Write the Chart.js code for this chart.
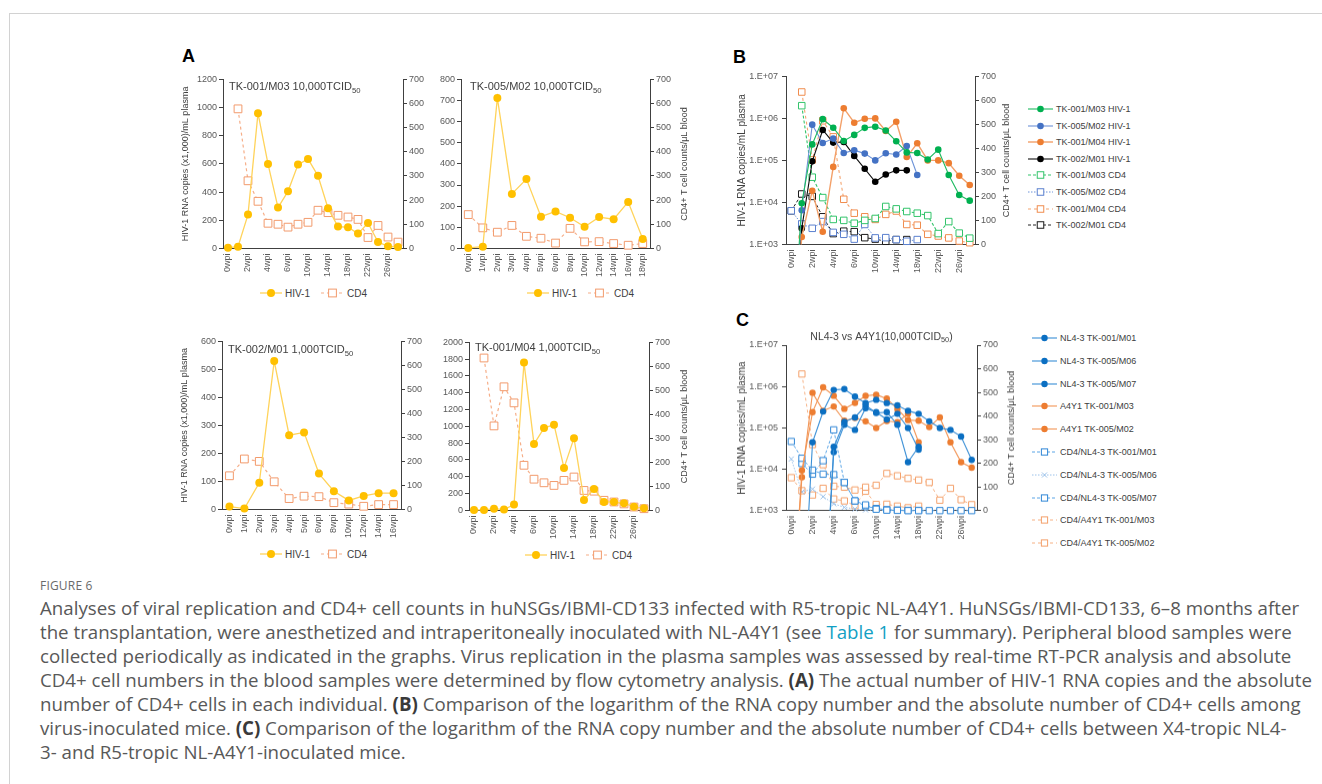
<!DOCTYPE html>
<html>
<head>
<meta charset="utf-8">
<script src="https://cdn.jsdelivr.net/npm/chart.js@4.4.0/dist/chart.umd.min.js"></script>
<style>
  html, body { margin: 0; padding: 0; background: #fff; }
  #page { position: relative; width: 1322px; height: 784px; overflow: hidden; font-family: 'Liberation Sans', Arial, sans-serif; }
  .frame { position: absolute; left: 9px; top: 13px; width: 1400px; height: 900px; border-top: 1px solid #d2d2d2; border-left: 1px solid #d2d2d2; }
  .wrap { position: absolute; }
  .letter { position: absolute; font-weight: bold; font-size: 18px; line-height: 20px; color: #000; }
  .lg { position: absolute; display: flex; align-items: center; white-space: nowrap; color: #404040; }
  .lg svg { flex: none; margin-right: 3px; }
  #fig { position: absolute; left: 40px; top: 578px; font-family: 'Open Sans', sans-serif; font-size: 12px; line-height: 16px; color: #6a6a6a; letter-spacing: 0.2px; }
  #cap { position: absolute; left: 40px; top: 596px; font-family: 'Open Sans', sans-serif; font-size: 16px; line-height: 24px; color: #585858; }
  #cap div { white-space: nowrap; }
  #cap b { color: #3a3a3a; }
  #cap .lnk { color: #129fc4; }
</style>
</head>
<body>
<div id="page">
  <div class="frame"></div>
  <div class="letter" style="left:182px;top:46px;">A</div>
  <div class="letter" style="left:733px;top:47px;">B</div>
  <div class="letter" style="left:736px;top:310px;">C</div>
  <div id="fig">FIGURE 6</div>
  <div id="cap">
    <div>Analyses of viral replication and CD4+ cell counts in huNSGs/IBMI-CD133 infected with R5-tropic NL-A4Y1. HuNSGs/IBMI-CD133, 6–8 months after</div>
    <div>the transplantation, were anesthetized and intraperitoneally inoculated with NL-A4Y1 (see <span class="lnk">Table 1</span> for summary). Peripheral blood samples were</div>
    <div>collected periodically as indicated in the graphs. Virus replication in the plasma samples was assessed by real-time RT-PCR analysis and absolute</div>
    <div>CD4+ cell numbers in the blood samples were determined by flow cytometry analysis. <b>(A)</b> The actual number of HIV-1 RNA copies and the absolute</div>
    <div>number of CD4+ cells in each individual. <b>(B)</b> Comparison of the logarithm of the RNA copy number and the absolute number of CD4+ cells among</div>
    <div>virus-inoculated mice. <b>(C)</b> Comparison of the logarithm of the RNA copy number and the absolute number of CD4+ cells between X4-tropic NL4-</div>
    <div>3- and R5-tropic NL-A4Y1-inoculated mice.</div>
  </div>
</div>
<script>
const FONT = "'Liberation Sans', Arial, sans-serif";
const AX = '#404040';
const TICK = '#595959';

// sampling weeks post infection
const wk = ['0wpi', '1wpi', '2wpi', '3wpi', '4wpi', '5wpi', '6wpi', '8wpi', '10wpi', '12wpi',
            '14wpi', '16wpi', '18wpi', '20wpi', '22wpi', '24wpi', '26wpi', '28wpi'];
const wk13 = wk.slice(0, 13);
const wk12 = wk.slice(0, 12);

// panel A: HIV-1 RNA (x1,000 copies/mL) and CD4+ T cells/uL
const hivM03 = [5, 12, 240, 960, 600, 290, 405, 595, 635, 515, 285, 155, 150, 105, 180, 45, 15, 10];
const cd4M03 = [null, 578, 280, 195, 104, 100, 88, 100, 108, 158, 148, 137, 130, 120, 45, 95, 47, 26];
const hivM02 = [2, 8, 712, 258, 328, 150, 175, 145, 102, 148, 138, 220, 45];
const cd4M02 = [140, 85, 67, 95, 50, 42, 22, 83, 27, 28, 20, 13, 20];
const hivM01 = [10, 3, 95, 530, 265, 275, 128, 65, 32, 48, 58, 58];
const cd4M01 = [140, 210, 200, 115, 45, 55, 53, 28, 22, 13, 20, 20];
const hivM04 = [5, 5, 20, 10, 70, 1760, 790, 980, 1020, 505, 860, 125, 255, 100, 100, 86, 43, 26];
const cd4M04 = [null, 635, 352, 515, 448, 188, 130, 115, 104, 125, 139, 83, 80, 42, 35, 27, 14, 7];

// panels B and C: HIV-1 RNA copies/mL (log axis)
const logM03 = [1, 9.5e3, 2.4e5, 9.6e5, 6.0e5, 2.9e5, 4.05e5, 5.95e5, 6.35e5, 5.15e5, 2.85e5, 1.55e5, 1.5e5, 1.05e5, 1.8e5, 4.5e4, 1.5e4, 1.1e4];
const logM02 = [1, 6.5e3, 7.1e5, 2.6e5, 3.3e5, 1.5e5, 1.75e5, 1.45e5, 1.0e5, 1.48e5, 1.38e5, 2.2e5, 4.5e4];
const logM04 = [1, 1.5e3, 1.9e4, 2.0e3, 7.0e4, 1.75e6, 7.9e5, 9.8e5, 1.0e6, 5.0e5, 8.3e5, 1.2e5, 2.55e5, 1.0e5, 1.0e5, 8.6e4, 4.3e4, 2.6e4];
const logM01 = [1, 2.4e3, 9.5e4, 5.3e5, 2.65e5, 2.75e5, 1.28e5, 6.3e4, 3.1e4, 4.6e4, 5.8e4, 5.8e4];

// panel C: NL4-3 inoculated mice
const nlM01 = [1, 1, 4.5e4, 2.5e5, 8.3e5, 8.7e5, 5.7e5, 4.0e5, 4.8e5, 4.0e5, 3.5e5, 2.6e5, 2.2e5, 1.45e5, 1.0e5, 9.0e4, 6.2e4, 1.7e4];
const nlM06 = [1, 1, 1, 1, 3.5e4, 1.4e5, 1.8e5, 3.5e5, 2.3e5, 2.4e5, 1.2e5, 1.5e4, 3.5e4];
const nlM07 = [1, 1, 1, 1, 2.6e4, 1.2e5, 9.0e4, 3.0e5, 2.4e5, 1.6e5, 2.2e5, 1.0e5, 3.0e4];
const nlCd4M01 = [293, 222, 172, 155, 153, 120, 42, 25, 7, 3, 2, 1, 1, 1, 1, 1, 1, 1];
const nlCd4M06 = [219, 80, 92, 60, 30, 15, 8, 4, 2, 2, 1, 1, 1];
const nlCd4M07 = [null, 200, 155, 212, 342, 120, 42, 20, 10, 5, 3, 2, 2];

// series styles: c marker colour, l line colour, w line width, d dash, m marker, r radius
const S = {
  aHiv:   { c: '#ffc000', l: '#ffd35a', w: 1.3, m: 'circle', r: 4 },
  aCd4:   { c: '#f29a6c', l: '#f6ae88', w: 1.2, d: [3, 3], m: 'rect', r: 5.5 },
  bG:     { c: '#00b050', l: '#1fbb62', w: 1.1, m: 'circle', r: 3.3 },
  bB:     { c: '#4472c4', l: '#6d93d8', w: 1.1, m: 'circle', r: 3.3 },
  bO:     { c: '#ed7d31', l: '#f3a069', w: 1.4, m: 'circle', r: 3.3 },
  bK:     { c: '#000000', l: '#111111', w: 1.1, m: 'circle', r: 3.3 },
  bGc:    { c: '#33c46b', l: '#33c46b', w: 1.1, d: [3, 2], m: 'rect', r: 4.6 },
  bBc:    { c: '#5b80cf', l: '#6d93d8', w: 1.0, d: [1.5, 1.5], m: 'rect', r: 4.6 },
  bOc:    { c: '#f08c4e', l: '#f4a470', w: 1.1, d: [3, 3], m: 'rect', r: 4.6 },
  bKc:    { c: '#1a1a1a', l: '#222222', w: 1.0, d: [3, 2], m: 'rect', r: 4.6 },
  cNl:    { c: '#0b6fc2', l: '#3a8fd6', w: 1.1, m: 'circle', r: 3.2 },
  cA4:    { c: '#ed7d31', l: '#f29556', w: 1.1, m: 'circle', r: 3.2 },
  cNlc:   { c: '#2f86d6', l: '#5aa5e6', w: 1.0, d: [3, 2], m: 'rect', r: 4.4 },
  cNlx:   { c: '#9cc2ea', l: '#9cc2ea', w: 1.0, d: [1.5, 1.5], m: 'cross', r: 3.6 },
  cA4c:   { c: '#f4a06a', l: '#f6b184', w: 1.0, d: [3, 3], m: 'rect', r: 4.4 }
};

function ds(label, data, st, axis, logAxis) {
  return {
    label: label, data: data, yAxisID: axis,
    borderColor: st.l, borderWidth: st.w, borderDash: st.d || [],
    pointStyle: st.m === 'rect' ? 'rect' : st.m === 'cross' ? 'crossRot' : 'circle',
    pointRadius: st.r, pointHoverRadius: st.r,
    pointBackgroundColor: st.m === 'circle' ? st.c : '#ffffff',
    pointBorderColor: st.c, pointBorderWidth: st.m === 'circle' ? 0 : 1,
    tension: 0, fill: false,
    clip: logAxis ? { left: false, right: false, top: false, bottom: 0 } : false
  };
}

// text drawn relative to the chart area: in-plot title and vertical axis titles
const txtPlug = {
  id: 'txt',
  afterDraw(chart, args, o) {
    const c = chart.ctx, a = chart.chartArea;
    c.save();
    c.fillStyle = '#404040';
    c.textBaseline = 'middle';
    if (o.title) {
      const t = o.title;
      const fnt = p => (p[1] ? t.size * 0.7 : t.size) + 'px ' + FONT;
      let w = 0;
      t.parts.forEach(p => { c.font = fnt(p); w += c.measureText(p[0]).width; });
      let x = t.center ? (a.left + a.right) / 2 - w / 2 : a.left + t.dx;
      const y = a.top + t.dy;
      c.textAlign = 'left';
      t.parts.forEach(p => {
        c.font = fnt(p);
        c.fillText(p[0], x, p[1] ? y + t.size * 0.32 : y);
        x += c.measureText(p[0]).width;
      });
    }
    ['left', 'right'].forEach(side => {
      const v = o[side];
      if (!v) return;
      c.save();
      c.font = v.size + 'px ' + FONT;
      c.translate(side === 'left' ? a.left - v.dx : a.right + v.dx, (a.top + a.bottom) / 2);
      c.rotate(-Math.PI / 2);
      c.textAlign = 'center';
      c.fillText(v.text, 0, 0);
      c.restore();
    });
    c.restore();
  }
};

const tickFont = { family: FONT, size: 9 };

function linAxis(pos, max, step, width) {
  return {
    type: 'linear', position: pos, min: 0, max: max,
    afterFit: s => { s.width = width; },
    grid: { drawOnChartArea: false, drawTicks: true, tickLength: 4, color: AX, tickColor: AX },
    border: { display: true, color: AX },
    ticks: { stepSize: step, font: tickFont, color: TICK, padding: 2, callback: v => String(v) }
  };
}

function logAxis(width) {
  return {
    type: 'logarithmic', position: 'left', min: 1000, max: 1e7,
    afterFit: s => { s.width = width; },
    afterBuildTicks: s => { s.ticks = [1e3, 1e4, 1e5, 1e6, 1e7].map(v => ({ value: v })); },
    grid: { drawOnChartArea: false, drawTicks: true, tickLength: 4, color: AX, tickColor: AX },
    border: { display: true, color: AX },
    ticks: { font: tickFont, color: TICK, padding: 4, callback: v => '1.E+0' + Math.round(Math.log10(v)) }
  };
}

const page = document.getElementById('page');

function panel(box, labels, everyOther, datasets, scales, txt, padTop) {
  const wrap = document.createElement('div');
  wrap.className = 'wrap';
  wrap.style.left = '0px';
  wrap.style.top = '0px';
  wrap.style.width = (box[2] - box[0] + 120) + 'px';
  wrap.style.height = (box[3] - box[1] + 80) + 'px';
  const cv = document.createElement('canvas');
  wrap.appendChild(cv);
  page.appendChild(wrap);
  scales.x = {
    type: 'category', offset: true,
    grid: { display: false, drawTicks: false },
    border: { display: true, color: AX },
    ticks: {
      autoSkip: false, minRotation: 90, maxRotation: 90, padding: 5,
      font: tickFont, color: TICK,
      callback: function (v, i) { return everyOther && i % 2 ? '' : this.getLabelForValue(v); }
    }
  };
  const chart = new Chart(cv, {
    type: 'line',
    data: { labels: labels, datasets: datasets },
    options: {
      responsive: true, maintainAspectRatio: false, animation: false,
      events: [],
      layout: { padding: { top: padTop || 0 } },
      plugins: { legend: { display: false }, tooltip: { enabled: false }, txt: txt },
      scales: scales
    },
    plugins: [txtPlug]
  });
  // line the plot area up with the figure layout
  const a = chart.chartArea;
  wrap.style.left = (box[0] - a.left) + 'px';
  wrap.style.top = (box[1] - a.top) + 'px';
  wrap.style.width = (wrap.offsetWidth + (box[2] - box[0]) - (a.right - a.left)) + 'px';
  wrap.style.height = (wrap.offsetHeight + (box[3] - box[1]) - (a.bottom - a.top)) + 'px';
  chart.resize();
  return chart;
}

const tcid = (name, dose) => ({ parts: [[name + ' ' + dose + 'TCID', false], ['50', true]], dx: 6, dy: 8, size: 11 });
const yTitleA = { text: 'HIV-1 RNA copies (x1,000)/mL plasma', size: 9, dx: 37 };
const cdTitle = (dx) => ({ text: 'CD4+ T cell counts/\u03bcL blood', size: 9, dx: dx });

// panel A
panel([223, 79, 403, 248], wk, true,
  [ds('HIV-1', hivM03, S.aHiv, 'y'), ds('CD4', cd4M03, S.aCd4, 'y2')],
  { y: linAxis('left', 1200, 200, 46), y2: linAxis('right', 700, 100, 28) },
  { title: tcid('TK-001/M03', '10,000'), left: yTitleA });

panel([461, 79, 650, 248], wk13, false,
  [ds('HIV-1', hivM02, S.aHiv, 'y'), ds('CD4', cd4M02, S.aCd4, 'y2')],
  { y: linAxis('left', 800, 100, 28), y2: linAxis('right', 700, 100, 44) },
  { title: Object.assign(tcid('TK-005/M02', '10,000'), { dx: 9 }), right: cdTitle(35) });

panel([222, 341, 401, 509], wk12, false,
  [ds('HIV-1', hivM01, S.aHiv, 'y'), ds('CD4', cd4M01, S.aCd4, 'y2')],
  { y: linAxis('left', 600, 100, 46), y2: linAxis('right', 700, 100, 28) },
  { title: Object.assign(tcid('TK-002/M01', '1,000'), { dy: 9 }), left: yTitleA });

panel([469, 342, 649, 510], wk, true,
  [ds('HIV-1', hivM04, S.aHiv, 'y'), ds('CD4', cd4M04, S.aCd4, 'y2')],
  { y: linAxis('left', 2000, 200, 34), y2: linAxis('right', 700, 100, 44) },
  { title: Object.assign(tcid('TK-001/M04', '1,000'), { dx: 6, dy: 6 }), right: cdTitle(36) });

// panel B
panel([786, 76, 975, 244], wk, true,
  [ds('TK-001/M03 HIV-1', logM03, S.bG, 'y', true),
   ds('TK-005/M02 HIV-1', logM02, S.bB, 'y', true),
   ds('TK-001/M04 HIV-1', logM04, S.bO, 'y', true),
   ds('TK-002/M01 HIV-1', logM01, S.bK, 'y', true),
   ds('TK-001/M03 CD4', cd4M03, S.bGc, 'y2'),
   ds('TK-005/M02 CD4', cd4M02, S.bBc, 'y2'),
   ds('TK-001/M04 CD4', cd4M04, S.bOc, 'y2'),
   ds('TK-002/M01 CD4', cd4M01, S.bKc, 'y2')],
  { y: logAxis(52), y2: linAxis('right', 700, 100, 42) },
  { left: { text: 'HIV-1 RNA copies/mL plasma', size: 10, dx: 44 }, right: cdTitle(32) });

// panel C
panel([786, 345, 977, 510], wk, true,
  [ds('NL4-3 TK-001/M01', nlM01, S.cNl, 'y', true),
   ds('NL4-3 TK-005/M06', nlM06, S.cNl, 'y', true),
   ds('NL4-3 TK-005/M07', nlM07, S.cNl, 'y', true),
   ds('A4Y1 TK-001/M03', logM03, S.cA4, 'y', true),
   ds('A4Y1 TK-005/M02', logM02, S.cA4, 'y', true),
   ds('CD4/NL4-3 TK-001/M01', nlCd4M01, S.cNlc, 'y2'),
   ds('CD4/NL4-3 TK-005/M06', nlCd4M06, S.cNlx, 'y2'),
   ds('CD4/NL4-3 TK-005/M07', nlCd4M07, S.cNlc, 'y2'),
   ds('CD4/A4Y1 TK-001/M03', cd4M03, S.cA4c, 'y2'),
   ds('CD4/A4Y1 TK-005/M02', cd4M02, S.cA4c, 'y2')],
  { y: logAxis(52), y2: linAxis('right', 700, 100, 44) },
  { title: { parts: [['NL4-3 vs A4Y1(10,000TCID', false], ['50', true], [')', false]], center: true, dy: -8, size: 10.5 },
    left: { text: 'HIV-1 RNA copies/mL plasma', size: 10, dx: 44 }, right: cdTitle(35) }, 16);

// legends
function swatch(st, w) {
  const h = 12, y = 6, cx = w / 2, a = st.r * Math.SQRT1_2;
  let s = '<svg width="' + w + '" height="' + h + '">';
  s += '<line x1="0" y1="' + y + '" x2="' + w + '" y2="' + y + '" stroke="' + st.l + '" stroke-width="' + st.w + '"' +
       (st.d ? ' stroke-dasharray="' + st.d.join(' ') + '"' : '') + '/>';
  if (st.m === 'circle') s += '<circle cx="' + cx + '" cy="' + y + '" r="' + st.r + '" fill="' + st.c + '"/>';
  else if (st.m === 'rect') s += '<rect x="' + (cx - a) + '" y="' + (y - a) + '" width="' + 2 * a + '" height="' + 2 * a + '" fill="#fff" stroke="' + st.c + '"/>';
  else s += '<path d="M' + (cx - a) + ' ' + (y - a) + 'L' + (cx + a) + ' ' + (y + a) + 'M' + (cx + a) + ' ' + (y - a) + 'L' + (cx - a) + ' ' + (y + a) + '" stroke="' + st.c + '"/>';
  return s + '</svg>';
}
function legendItem(x, y, text, st, w, size) {
  const d = document.createElement('div');
  d.className = 'lg';
  d.style.left = x + 'px';
  d.style.top = (y - 7) + 'px';
  d.style.height = '14px';
  d.style.fontSize = size + 'px';
  d.innerHTML = swatch(st, w) + '<span>' + text + '</span>';
  page.appendChild(d);
}

[[260, 293], [527, 293], [260, 554], [525, 555]].forEach(p => {
  legendItem(p[0], p[1], 'HIV-1', S.aHiv, 22, 10);
  legendItem(p[0] + 61, p[1], 'CD4', S.aCd4, 23, 10);
});

const legB = ['TK-001/M03 HIV-1', 'TK-005/M02 HIV-1', 'TK-001/M04 HIV-1', 'TK-002/M01 HIV-1',
              'TK-001/M03 CD4', 'TK-005/M02 CD4', 'TK-001/M04 CD4', 'TK-002/M01 CD4'];
const legBst = [S.bG, S.bB, S.bO, S.bK, S.bGc, S.bBc, S.bOc, S.bKc];
legB.forEach((t, i) => legendItem(1028, 109 + i * 16.6, t, legBst[i], 25, 9));

const legC = ['NL4-3 TK-001/M01', 'NL4-3 TK-005/M06', 'NL4-3 TK-005/M07', 'A4Y1 TK-001/M03', 'A4Y1 TK-005/M02',
              'CD4/NL4-3 TK-001/M01', 'CD4/NL4-3 TK-005/M06', 'CD4/NL4-3 TK-005/M07', 'CD4/A4Y1 TK-001/M03', 'CD4/A4Y1 TK-005/M02'];
const legCst = [S.cNl, S.cNl, S.cNl, S.cA4, S.cA4, S.cNlc, S.cNlx, S.cNlc, S.cA4c, S.cA4c];
legC.forEach((t, i) => legendItem(1032, 338 + i * 22.8, t, legCst[i], 25, 9));

// caption: scale the font so the first line spans the same width as in the figure
const cap = document.getElementById('cap');
const first = cap.children[0];
first.style.display = 'inline-block';
const w0 = first.getBoundingClientRect().width;
first.style.display = '';
cap.style.fontSize = (16 * 1260 / w0).toFixed(2) + 'px';
</script>
</body>
</html>
